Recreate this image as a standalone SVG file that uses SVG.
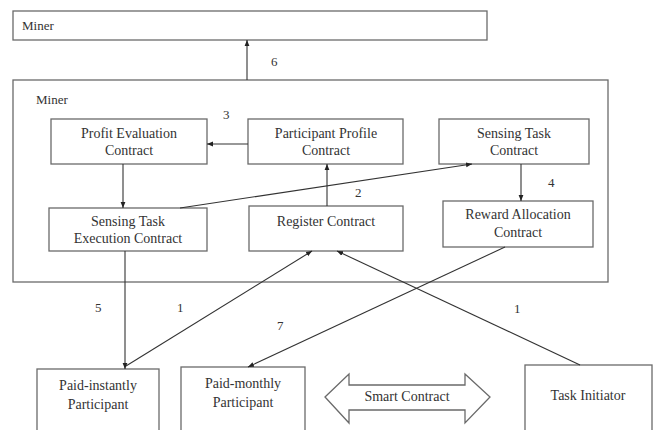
<svg xmlns="http://www.w3.org/2000/svg" width="657" height="430" viewBox="0 0 657 430">
<defs>
<style>
.nodeBox{fill:#fff;stroke:#6a6a6a;stroke-width:1.3}
.link{fill:none;stroke:#333;stroke-width:1.1}
</style>
<marker id="arrowHead" viewBox="0 0 10 10" refX="10" refY="5" markerWidth="6" markerHeight="6" orient="auto" markerUnits="userSpaceOnUse">
<path d="M0,1 L10,5 L0,9 z" fill="#222"/>
</marker>
</defs>
<rect width="657" height="430" fill="#fff"/>
<g id="miner-top"><rect class="nodeBox" x="13" y="11" width="474" height="29"/><text font-family="Liberation Serif" font-size="13" fill="#333" x="22" y="30">Miner</text></g>
<g id="miner"><rect class="nodeBox" x="13" y="80" width="595" height="202"/><text font-family="Liberation Serif" font-size="13" fill="#333" x="36" y="104">Miner</text></g>
<g font-family="Liberation Serif" font-size="14" fill="#333" text-anchor="middle">
<g id="profit"><rect class="nodeBox" x="51" y="119" width="156" height="45"/><text x="129" y="138">Profit Evaluation</text><text x="129" y="155">Contract</text></g>
<g id="profile"><rect class="nodeBox" x="248" y="119" width="155" height="45"/><text x="326" y="138">Participant Profile</text><text x="326" y="155">Contract</text></g>
<g id="sensing"><rect class="nodeBox" x="439" y="119" width="150" height="45"/><text x="514" y="138">Sensing Task</text><text x="514" y="155">Contract</text></g>
<g id="execution"><rect class="nodeBox" x="49" y="208" width="158" height="43"/><text x="128" y="226">Sensing Task</text><text x="128" y="243">Execution Contract</text></g>
<g id="register"><rect class="nodeBox" x="249" y="206" width="154" height="45"/><text x="326" y="226">Register Contract</text></g>
<g id="reward"><rect class="nodeBox" x="443" y="201" width="150" height="46"/><text x="518" y="219">Reward Allocation</text><text x="518" y="237">Contract</text></g>
<g id="instant"><rect class="nodeBox" x="37" y="369" width="122" height="70"/><text x="98" y="390">Paid-instantly</text><text x="98" y="409">Participant</text></g>
<g id="monthly"><rect class="nodeBox" x="181" y="367" width="124" height="72"/><text x="243" y="388">Paid-monthly</text><text x="243" y="407">Participant</text></g>
<g id="initiator"><rect class="nodeBox" x="525" y="365" width="127" height="74"/><text x="588" y="400">Task Initiator</text></g>
<g id="smart"><path class="nodeBox" d="M325,397 L349,374 L349,385 L465,385 L465,374 L490,397 L465,423 L465,410 L349,410 L349,423 Z"/><text x="407" y="401">Smart Contract</text></g>
</g>
<g id="connectors">
<line class="link" x1="247" y1="80" x2="247" y2="40" marker-end="url(#arrowHead)"/>
<line class="link" x1="248" y1="144" x2="207" y2="144" marker-end="url(#arrowHead)"/>
<line class="link" x1="123" y1="164" x2="123" y2="208" marker-end="url(#arrowHead)"/>
<line class="link" x1="327" y1="206" x2="327" y2="164" marker-end="url(#arrowHead)"/>
<line class="link" x1="180" y1="208" x2="472" y2="164" marker-end="url(#arrowHead)"/>
<line class="link" x1="521" y1="164" x2="521" y2="201" marker-end="url(#arrowHead)"/>
<line class="link" x1="125" y1="251" x2="125" y2="369" marker-end="url(#arrowHead)"/>
<line class="link" x1="126" y1="366" x2="312" y2="251" marker-end="url(#arrowHead)"/>
<line class="link" x1="505" y1="247" x2="248" y2="367" marker-end="url(#arrowHead)"/>
<line class="link" x1="580" y1="365" x2="337" y2="251" marker-end="url(#arrowHead)"/>
<g font-family="Liberation Serif" font-size="13" fill="#333">
<text x="271" y="66">6</text>
<text x="223" y="119">3</text>
<text x="355" y="197">2</text>
<text x="548" y="187">4</text>
<text x="95" y="312">5</text>
<text x="177" y="312">1</text>
<text x="277" y="330">7</text>
<text x="514" y="313">1</text>
</g>
</g>
</svg>
